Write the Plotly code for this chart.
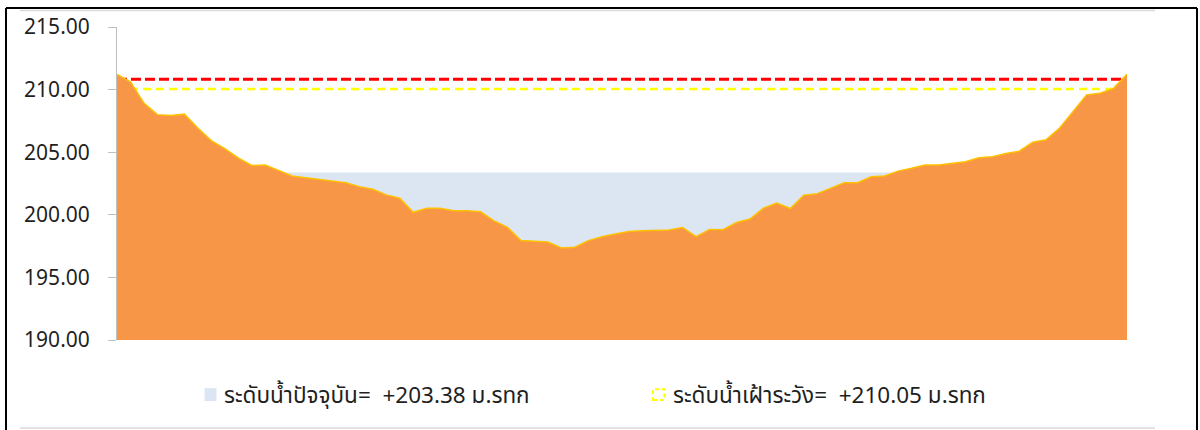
import plotly.graph_objects as go

# ---- data ----
station_idx = list(range(76))
ground_level = [
    211.22, 210.63, 208.92, 208.00, 207.94, 208.04, 206.93, 205.93, 205.29, 204.55,
    203.94, 203.97, 203.55, 203.10, 202.96, 202.83, 202.75, 202.56, 202.25, 202.04,
    201.59, 201.32, 200.20, 200.53, 200.53, 200.32, 200.32, 200.24, 199.52, 198.99,
    197.94, 197.89, 197.83, 197.35, 197.41, 197.94, 198.25, 198.47, 198.67, 198.73,
    198.73, 198.78, 198.99, 198.25, 198.83, 198.81, 199.39, 199.66, 200.53, 200.93,
    200.50, 201.56, 201.69, 202.12, 202.56, 202.56, 203.04, 203.10, 203.49, 203.71,
    203.97, 203.97, 204.10, 204.23, 204.55, 204.63, 204.89, 205.08, 205.79, 206.00,
    206.93, 208.25, 209.58, 209.71, 210.10, 211.22,
]
current_level = 203.38
warning_level = 210.05
bank_level = 210.82
y_ticks = [190, 195, 200, 205, 210, 215]
legend_current = "ระดับน้ำปัจจุบัน=  +203.38 ม.รทก"
legend_warning = "ระดับน้ำเฝ้าระวัง=  +210.05 ม.รทก"

W, H = 1200, 430
L, R, T, B = 117, 73, 25, 90
PW, PH = W - L - R, H - T - B

def px(x):
    return (x - L) / PW

def py(y):
    return (H - B - y) / PH

FONT = "Noto Sans, Noto Sans Thai, Open Sans, sans-serif"
TXT = "#1F1F1F"

fig = go.Figure()
fig.add_trace(go.Scatter(
    x=station_idx, y=[bank_level] * len(station_idx), mode="lines",
    line=dict(color="#FF0000", width=3, dash="10px,4px"), hoverinfo="skip"))
fig.add_trace(go.Scatter(
    x=station_idx, y=[warning_level] * len(station_idx), mode="lines",
    line=dict(color="#FFFF00", width=2.5, dash="8px,5px"), hoverinfo="skip"))
fig.add_trace(go.Scatter(
    x=station_idx, y=[current_level] * len(station_idx), mode="lines",
    line=dict(width=0), fill="tozeroy", fillcolor="#DCE6F2", hoverinfo="skip"))
fig.add_trace(go.Scatter(
    x=station_idx, y=ground_level, mode="lines",
    line=dict(color="#FFC000", width=1.5), fill="tozeroy", fillcolor="#F79646",
    hoverinfo="skip"))

shapes = [
    # legend swatches
    dict(type="rect", xref="paper", yref="paper", x0=px(204.5), x1=px(216.5),
         y0=py(401.5), y1=py(388.5), fillcolor="#DCE6F2", line=dict(width=0)),
    dict(type="rect", xref="paper", yref="paper", x0=px(653), x1=px(664.5),
         y0=py(400.5), y1=py(389.5), fillcolor="rgba(0,0,0,0)",
         line=dict(color="#FFFF00", width=2, dash="4px,3px")),
    # frame lines
    dict(type="line", xref="paper", yref="paper", x0=px(20), x1=px(1155),
         y0=py(8.5), y1=py(8.5), line=dict(color="#D9D9D9", width=1.5)),
    dict(type="line", xref="paper", yref="paper", x0=px(20), x1=px(1155),
         y0=py(428.5), y1=py(428.5), line=dict(color="#D9D9D9", width=1.5)),
    dict(type="line", xref="paper", yref="paper", x0=px(6), x1=px(6),
         y0=py(6), y1=py(440), line=dict(color="#000000", width=2)),
    dict(type="line", xref="paper", yref="paper", x0=px(6), x1=px(1197),
         y0=py(6), y1=py(6), line=dict(color="#000000", width=2)),
    dict(type="line", xref="paper", yref="paper", x0=px(1197), x1=px(1197),
         y0=py(6), y1=py(440), line=dict(color="#000000", width=2)),
]

annotations = [
    dict(text=legend_current, xref="paper", yref="paper", x=px(222), y=py(395),
         xanchor="left", yanchor="middle", showarrow=False,
         font=dict(size=22.5, color=TXT, family=FONT)),
    dict(text=legend_warning, xref="paper", yref="paper", x=px(671), y=py(395),
         xanchor="left", yanchor="middle", showarrow=False,
         font=dict(size=22.5, color=TXT, family=FONT)),
]

fig.update_layout(
    width=W, height=H,
    margin=dict(l=L, r=R, t=T, b=B, pad=0),
    paper_bgcolor="white", plot_bgcolor="white",
    showlegend=False,
    font=dict(family=FONT, color=TXT),
    xaxis=dict(range=[0, 75], visible=False, showgrid=False, zeroline=False),
    yaxis=dict(range=[190, 215], tickvals=y_ticks, tickformat=".2f",
               showgrid=False, zeroline=False, showline=True, linecolor="#BFBFBF",
               linewidth=1, ticks="outside", ticklen=8, tickcolor="#BFBFBF",
               ticklabelstandoff=14,
               tickfont=dict(size=21, color=TXT, family=FONT)),
    shapes=shapes, annotations=annotations,
)

fig.write_html(
    "out.html",
    config={"displayModeBar": False},
    post_script="document.body.style.margin='0px';document.body.style.overflow='hidden';",
)
